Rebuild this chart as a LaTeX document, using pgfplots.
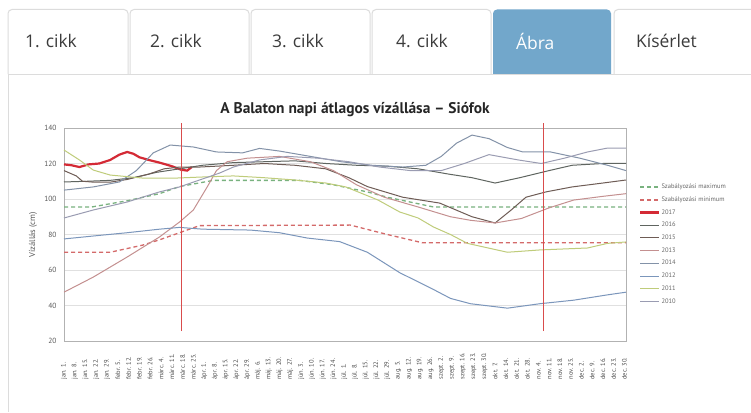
\documentclass[border=0pt]{standalone}
\usepackage{fontspec}
\setmainfont{PT Sans}
\newfontfamily\tabfont{Open Sans}
\usepackage{pgfplots}
\pgfplotsset{compat=1.18}
\definecolor{tabborder}{HTML}{DCDCDC}
\definecolor{tabblue}{HTML}{72A7CB}
\definecolor{tabtext}{HTML}{3C3C3C}
\definecolor{maxc}{HTML}{79B27F}
\definecolor{minc}{HTML}{D46A6A}
\definecolor{c2017}{HTML}{D42A35}
\definecolor{c2016}{HTML}{5F6560}
\definecolor{c2015}{HTML}{6E5C55}
\definecolor{c2013}{HTML}{C49090}
\definecolor{c2014}{HTML}{8392A8}
\definecolor{c2012}{HTML}{7B96BB}
\definecolor{c2011}{HTML}{BFCC7A}
\definecolor{c2010}{HTML}{9A9CB2}
\definecolor{vlinec}{rgb}{0.85,0.3,0.3}
\begin{document}
\begin{tikzpicture}[x=1bp,y=1bp]
\useasboundingbox (0,0) rectangle (751,412);
\fill[white] (0,0) rectangle (751,412);
% tabs
\foreach \a/\b in {8/128,130/249,251/370,372/491,614/760}
  \draw[tabborder, line width=1bp, rounded corners=4bp] (\a,338) -- (\a,402.5) -- (\b,402.5) -- (\b,338);
\fill[tabblue, rounded corners=4bp] (493,338) -- (493,402.5) -- (611,402.5) -- (611,338);
\draw[tabborder, line width=1bp] (8,338) -- (751,338);
\draw[tabborder, line width=1bp] (8.5,338) -- (8.5,0);
\foreach \c/\t in {25/{1. cikk},150/{2. cikk},272/{3. cikk},396/{4. cikk},636/{Kísérlet}}
  \node[anchor=west, inner sep=0pt, text=tabtext, font=\tabfont\fontsize{17.5}{20}\selectfont] at (\c,371) {\t};
\node[anchor=west, inner sep=0pt, text=white, font=\tabfont\fontsize{17.5}{20}\selectfont] at (516,371) {Ábra};
% title
\node[text=black!85, font=\bfseries\fontsize{15.5}{17}\selectfont] at (355,302) {A Balaton napi átlagos vízállása – Siófok};
\begin{axis}[
  at={(64bp,71bp)}, anchor=south west, scale only axis,
  width=562bp, height=213bp,
  xmin=0, xmax=365, ymin=20, ymax=140,
  ytick={20,40,...,140},
  xtick={0,7,...,364},
  xticklabels={jan. 1.,jan. 8.,jan. 15.,jan. 22.,jan. 29.,febr. 5.,febr. 12.,febr. 19.,febr. 26.,márc. 4.,márc. 11.,márc. 18.,márc. 25.,ápr. 1.,ápr. 8.,ápr. 15.,ápr. 22.,ápr. 29.,máj. 6.,máj. 13.,máj. 20.,máj. 27.,jún. 3.,jún. 10.,jún. 17.,jún. 24.,júl. 1.,júl. 8.,júl. 15.,júl. 22.,júl. 29.,aug. 5.,aug. 12.,aug. 19.,aug. 26.,szept. 2.,szept. 9.,szept. 16.,szept. 23.,szept. 30.,okt. 7.,okt. 14.,okt. 21.,okt. 28.,nov. 4.,nov. 11.,nov. 18.,nov. 25.,dec. 2.,dec. 9.,dec. 16.,dec. 23.,dec. 30.},
  /pgf/number format/assume math mode=true,
  ymajorgrids, grid style={black!12, line width=0.6bp},
  axis line style={black!30, line width=0.6bp},
  major tick length=0pt,
  yticklabel style={overlay, font=\fontsize{7.5}{8}\selectfont, text=black!65, xshift=-4bp},
  xticklabel style={overlay, font=\fontsize{6.5}{7}\selectfont, text=black!70, yshift=-42bp, rotate=90, anchor=west},
  ylabel={Vízállás (cm)},
  every axis y label/.style={overlay, at={(axis description cs:-0.0552,0.5)}, rotate=90, anchor=center, font=\fontsize{8.5}{9}\selectfont, text=black!65},
  clip=false,
  legend style={overlay, at={(axis description cs:1.018,0.752)}, anchor=north west, draw=none, fill=none,
    font=\fontsize{6.5}{7}\selectfont, text=black!60, row sep=4.6bp, nodes={inner sep=1bp}},
  legend cell align=left,
  legend image code/.code={\draw[#1] (0bp,0bp) -- (19bp,0bp);},
  every axis plot/.append style={line width=1bp},
]
\addplot[maxc, line width=1.3bp, dash pattern=on 4bp off 3bp] coordinates {(0,95.5) (18,95.5) (41,99) (62,103) (75,107) (97,110.5) (153,110.5) (175,108) (197,104) (210,101) (240,95.5) (365,95.5)};
\addlegendentry{Szabályozási maximum}
\addplot[minc, line width=1.3bp, dash pattern=on 4bp off 3bp] coordinates {(0,70) (30,70) (51,74) (62,77) (75,81) (88,85) (186,85.3) (210,80) (233,75.3) (365,75.3)};
\addlegendentry{Szabályozási minimum}
\addplot[c2017, line width=2.2bp] coordinates {(0,119.5) (5,119) (10,118) (16,119.5) (23,120) (30,122) (36,125) (41,126.5) (45,125.5) (49,123.5) (55,122) (62,120.5) (70,118.5) (76,116.5) (80,116) (83,118)};
\addlegendentry{2017}
\addplot[c2016] coordinates {(0,109.6) (15,110) (30,110.5) (45,112) (60,115) (75,117) (90,119) (110,120.5) (130,121) (150,121.5) (170,120) (190,119) (210,118.5) (230,117) (250,114) (265,112) (280,109) (296,112) (315,116) (330,119) (350,120) (365,120)};
\addlegendentry{2016}
\addplot[c2015] coordinates {(0,116) (8,113) (12,110) (19,109.5) (30,109.5) (41,111) (55,114) (65,117) (75,118) (88,118) (110,119) (130,120) (150,119) (170,117) (185,112) (197,107) (220,101) (244,97.7) (265,90) (280,86.5) (290,93.5) (300,101) (313,104) (330,106.8) (350,109) (365,110.7)};
\addlegendentry{2015}
\addplot[c2013] coordinates {(0,47.5) (19,56) (41,67.3) (62,78.6) (75,87) (84,93.8) (93,106.8) (99,116) (106,121) (119,123) (140,124) (160,121) (175,116) (190,108) (208,101) (230,95.5) (251,90) (264,88) (280,86.5) (297,89) (315,95) (331,99.4) (350,101.5) (365,103)};
\addlegendentry{2013}
\addplot[c2014] coordinates {(0,105) (19,106.8) (36,109.6) (47,116) (58,126) (69,130.4) (84,129.3) (99,126.5) (116,126) (127,128.5) (140,127) (160,124) (180,121) (200,119) (220,118) (235,119) (245,124) (255,131.5) (265,136) (276,134) (288,129) (298,126.5) (316,126.5) (335,123) (353,119) (365,116)};
\addlegendentry{2014}
\addplot[c2012] coordinates {(0,77.5) (23,79.5) (41,81) (62,83) (75,84) (90,83) (121,82.5) (140,81) (158,78) (179,76) (197,70) (218,58.5) (240,49) (251,44) (264,41) (288,38.5) (309,41) (331,43) (353,46) (365,47.5)};
\addlegendentry{2012}
\addplot[c2011] coordinates {(0,127.6) (10,122) (19,116.3) (30,113.5) (51,111.8) (73,111.8) (90,112.4) (110,113) (130,112) (150,110.7) (170,109) (183,106.8) (204,99.4) (218,92.7) (230,89.3) (240,84.2) (251,80) (262,75) (288,70) (309,71.3) (340,72.4) (353,75) (365,75.8)};
\addlegendentry{2011}
\addplot[c2010] coordinates {(0,89.3) (19,93.8) (41,98.3) (62,104) (75,106.8) (88,110.7) (101,114.6) (110,118) (127,122) (145,124) (165,123) (185,121) (205,118) (225,116) (245,116) (260,120) (276,125) (295,122) (310,120) (325,123) (340,126.5) (353,128.7) (365,128.7)};
\addlegendentry{2010}
\addplot[color=vlinec, line width=1.1bp] coordinates {(76.5,25.5) (76.5,143)};
\addplot[color=vlinec, line width=1.1bp] coordinates {(311.5,25.5) (311.5,143)};
\end{axis}
\end{tikzpicture}
\end{document}
